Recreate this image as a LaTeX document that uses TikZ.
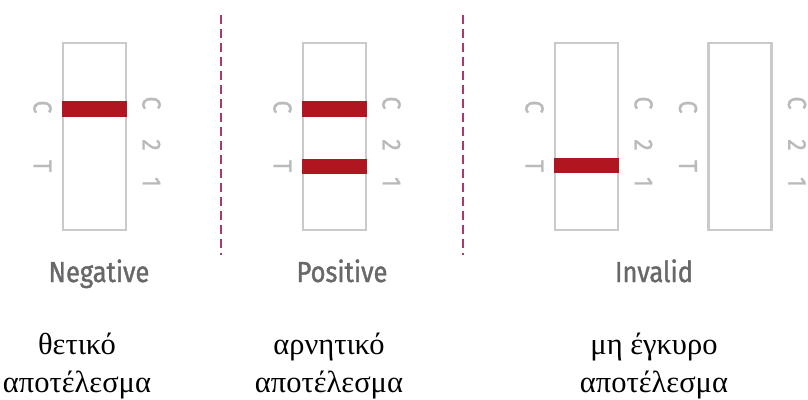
\documentclass[tikz,border=0pt]{standalone}
\usepackage{fontspec}
\setmainfont{Liberation Serif}
\newfontfamily\labelfont[FakeStretch=0.88,FakeBold=1.2]{Fira Sans}
\definecolor{stripgray}{RGB}{202,202,204}
\definecolor{bandred}{RGB}{176,22,32}
\definecolor{markgray}{RGB}{186,186,188}
\definecolor{namegray}{RGB}{104,104,106}
\definecolor{sepred}{RGB}{168,58,108}

\begin{document}
\begin{tikzpicture}[x=1pt,y=-1pt,
	strip/.style={draw=stripgray, line width=2.4pt, minimum width=63pt, minimum height=187pt, inner sep=0pt},
	band/.style={fill=bandred},
	marklabel/.style={text=markgray, font=\labelfont\fontsize{26}{26}\selectfont, rotate=-90, inner sep=0pt},
	result/.style={text=namegray, anchor=base, font=\labelfont\fontsize{29}{29}\selectfont},
	greek/.style={align=center, anchor=base, font=\fontsize{30.5}{38}\selectfont},
	sep/.style={draw=sepred, line width=2pt, dash pattern=on 9pt off 5pt}]
		\useasboundingbox (0,0) rectangle (808,399);
		% test strips with C / T marks
		\foreach \n/\x in {1/94.5, 2/334.5, 3/586.5, 4/740} {
			\node [strip] (s\n) at (\x,136.5) {};
			\node [marklabel] (lc\n) at (\x-52,107) {C};
			\node [marklabel] (lt\n) at (\x-52,166) {T};
			\node [marklabel] (rc\n) at (\x+57,103) {C};
			\node [marklabel] (r2\n) at (\x+57,145) {2};
			\node [marklabel] (r1\n) at (\x+57,182) {1};
		};
		% red lines
		\fill [band] (s1.west |- 0,101) rectangle (s1.east |- 0,117);
		\fill [band] (s2.west |- 0,101) rectangle (s2.east |- 0,117);
		\fill [band] (s2.west |- 0,159) rectangle (s2.east |- 0,174);
		\fill [band] (s3.west |- 0,158) rectangle (s3.east |- 0,173);
		% separators
		\draw [sep] (221,15) -- (221,255);
		\draw [sep] (463,15) -- (463,255);
		\node [result] (neg) at (99,282) {Negative};
		\node [result] (pos) at (342,282) {Positive};
		\node [result] (inv) at (654,282) {Invalid};
		\node [greek] (g1) at (77,392) {θετικό\\αποτέλεσμα};
		\node [greek] (g2) at (329,392) {αρνητικό\\αποτέλεσμα};
		\node [greek] (g3) at (654,392) {μη έγκυρο\\αποτέλεσμα};
	\end{tikzpicture}
\end{document}
